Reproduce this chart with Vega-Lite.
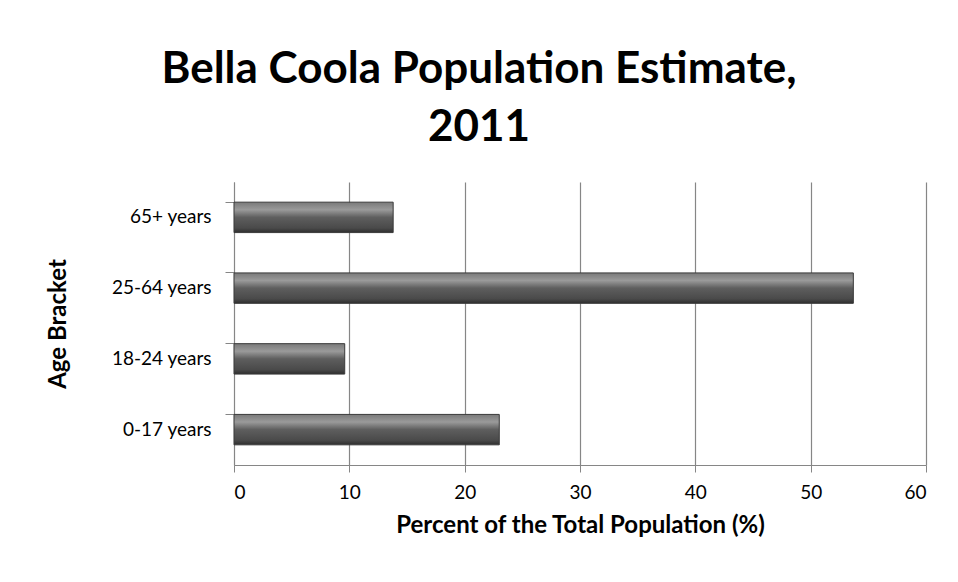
{
  "$schema": "https://vega.github.io/schema/vega-lite/v6.json",
  "autosize": "none",
  "width": 692,
  "height": 283,
  "padding": {"left": 234, "top": 182, "right": 32, "bottom": 117},
  "background": "white",
  "title": {
    "text": ["Bella Coola Population Estimate,", "2011"],
    "font": "Lato",
    "fontWeight": "bold",
    "fontSize": 44,
    "lineHeight": 58,
    "color": "#000000",
    "anchor": "middle",
    "dx": -101,
    "offset": 32
  },
  "data": {
    "values": [
      {"age": "65+ years", "pct": 13.8},
      {"age": "25-64 years", "pct": 53.7},
      {"age": "18-24 years", "pct": 9.6},
      {"age": "0-17 years", "pct": 23.0}
    ]
  },
  "mark": {
    "type": "bar",
    "color": {
      "gradient": "linear",
      "x1": 0, "y1": 0, "x2": 0, "y2": 1,
      "stops": [
        {"offset": 0, "color": "#7a7a7a"},
        {"offset": 0.25, "color": "#9a9a9a"},
        {"offset": 0.5, "color": "#5e5e5e"},
        {"offset": 0.85, "color": "#4a4a4a"},
        {"offset": 1, "color": "#2e2e2e"}
      ]
    },
    "stroke": "#3a3a3a",
    "strokeWidth": 1
  },
  "encoding": {
    "y": {
      "field": "age",
      "type": "nominal",
      "sort": ["65+ years", "25-64 years", "18-24 years", "0-17 years"],
      "scale": {"paddingInner": 0.57, "paddingOuter": 0.285},
      "axis": {
        "title": "Age Bracket",
        "titleFont": "Lato",
        "titleFontSize": 24,
        "titleFontWeight": "bold",
        "titleColor": "#000000",
        "titlePadding": 40,
        "labelFont": "Lato",
        "labelFontSize": 19,
        "labelColor": "#000000",
        "labelPadding": 14,
        "bandPosition": 0,
        "tickSize": 9,
        "tickColor": "#868686",
        "domainColor": "#868686",
        "grid": false
      }
    },
    "x": {
      "field": "pct",
      "type": "quantitative",
      "scale": {"domain": [0, 60], "nice": false},
      "axis": {
        "title": "Percent of the Total Population (%)",
        "titleFont": "Lato",
        "titleFontSize": 24,
        "titleFontWeight": "bold",
        "titleColor": "#000000",
        "titlePadding": 11,
        "labelFont": "Lato",
        "labelFontSize": 19,
        "labelColor": "#000000",
        "labelPadding": 11,
        "values": [0, 10, 20, 30, 40, 50, 60],
        "tickSize": 7,
        "tickColor": "#868686",
        "domainColor": "#868686",
        "grid": true,
        "gridColor": "#868686",
        "gridWidth": 1.2
      }
    }
  },
  "config": {
    "view": {"stroke": null}
  }
}
